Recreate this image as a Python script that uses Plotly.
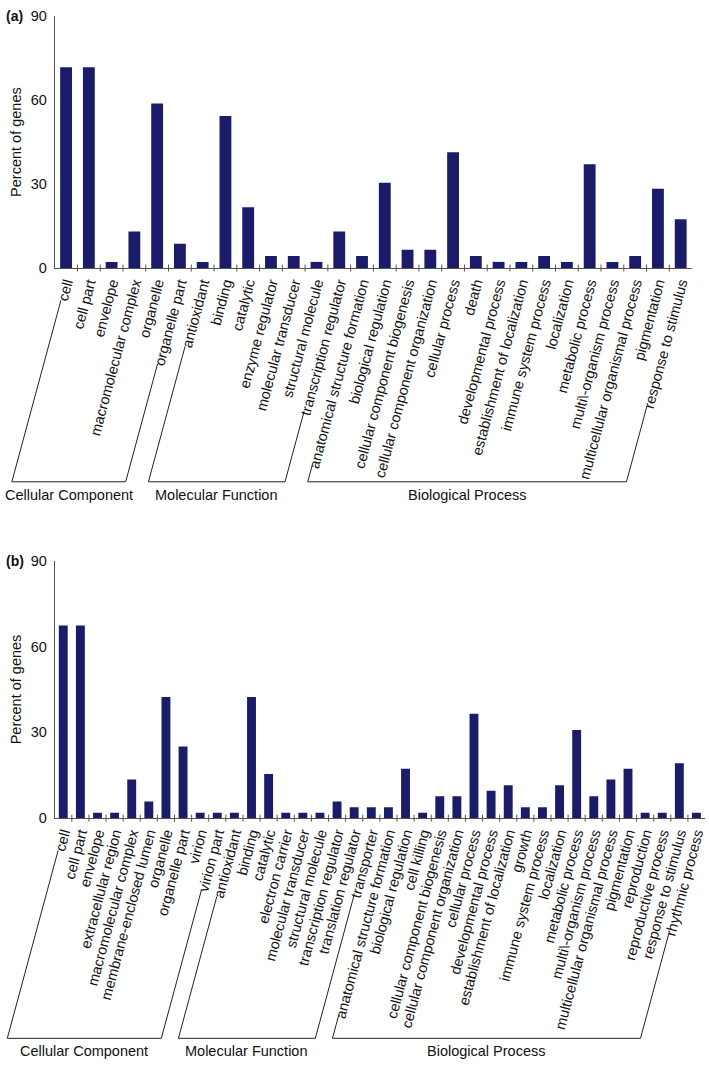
import math
import plotly.graph_objects as go

# ---------------- data ----------------
cats_a = ["cell", "cell part", "envelope", "macromolecular complex", "organelle",
          "organelle part", "antioxidant", "binding", "catalytic", "enzyme regulator",
          "molecular transducer", "structural molecule", "transcription regulator",
          "anatomical structure formation", "biological regulation",
          "cellular component biogenesis", "cellular component organization",
          "cellular process", "death", "developmental process",
          "establishment of localization", "immune system process", "localization",
          "metabolic process", "multi\\-organism process",
          "multicellular organismal process", "pigmentation", "response to stimulus"]
vals_a = [71.7, 71.7, 2.2, 13.0, 58.7, 8.7, 2.2, 54.3, 21.7, 4.3, 4.3, 2.2, 13.0,
          4.3, 30.4, 6.5, 6.5, 41.3, 4.3, 2.2, 2.2, 4.3, 2.2, 37.0, 2.2, 4.3, 28.3, 17.4]
groups_a = [("Cellular Component", 0, 5), ("Molecular Function", 6, 12),
            ("Biological Process", 13, 27)]

cats_b = ["cell", "cell part", "envelope", "extracellular region", "macromolecular complex",
          "membrane-enclosed lumen", "organelle", "organelle part", "virion", "virion part",
          "antioxidant", "binding", "catalytic", "electron carrier", "molecular transducer",
          "structural molecule", "transcription regulator", "translation regulator",
          "transporter", "anatomical structure formation", "biological regulation",
          "cell killing", "cellular component biogenesis", "cellular component organization",
          "cellular process", "developmental process", "establishment of localization",
          "growth", "immune system process", "localization", "metabolic process",
          "multi\\-organism process", "multicellular organismal process", "pigmentation",
          "reproduction", "reproductive process", "response to stimulus", "rhythmic process"]
vals_b = [67.3, 67.3, 1.9, 1.9, 13.5, 5.8, 42.3, 25.0, 1.9, 1.9,
          1.9, 42.3, 15.4, 1.9, 1.9, 1.9, 5.8, 3.8, 3.8,
          3.8, 17.3, 1.9, 7.7, 7.7, 36.5, 9.6, 11.5, 3.8, 3.8, 11.5, 30.8,
          7.7, 13.5, 17.3, 1.9, 1.9, 19.2, 1.9]
groups_b = [("Cellular Component", 0, 9), ("Molecular Function", 10, 18),
            ("Biological Process", 19, 37)]

y_ticks = [0, 30, 60, 90]

# ---------------- styling / geometry ----------------
W, H = 709, 1067
FONT = "Liberation Sans, Arial, sans-serif"
FS = 14.5
BAR = "#1b1b6c"
AX = "#555555"
ANG = 75  # label angle from horizontal

panels = {
    "a": dict(cats=cats_a, vals=vals_a, groups=groups_a, xl=52, xr=693, yt=8, yb=264,
              base=217, xa="x", ya="y"),
    "b": dict(cats=cats_b, vals=vals_b, groups=groups_b, xl=52, xr=706, yt=561, yb=822.5,
              base=223.5, xa="x2", ya="y2"),
}

CW = {'a': 556, 'b': 556, 'c': 500, 'd': 556, 'e': 556, 'f': 278, 'g': 556, 'h': 556,
      'i': 222, 'j': 222, 'k': 500, 'l': 222, 'm': 833, 'n': 556, 'o': 556, 'p': 556,
      'q': 556, 'r': 333, 's': 500, 't': 278, 'u': 556, 'v': 500, 'w': 722, 'x': 500,
      'y': 500, 'z': 500, ' ': 278, '-': 333, '\\': 278}


def text_w(s):
    return sum(CW.get(ch, 556) for ch in s) / 1000.0 * FS


def px(x):
    return x / W


def py(y):
    return 1 - y / H


fig = go.Figure()
shapes = []
annotations = []
s, c = math.sin(math.radians(90 - ANG)), math.cos(math.radians(90 - ANG))

for key, p in panels.items():
    n = len(p["cats"])
    fig.add_trace(go.Bar(x=list(range(n)), y=p["vals"], marker_color=BAR,
                         marker_line_width=0, xaxis=p["xa"], yaxis=p["ya"],
                         showlegend=False))
    step = (p["xr"] - p["xl"]) / n
    ybase = p["yb"] + p["base"]

    def origin(i):
        return p["xl"] + (i + 0.5) * step + 2, p["yb"] + 6

    for name, i0, i1 in p["groups"]:
        pts = []
        for i in (i0, i1):
            ox, oy = origin(i)
            L = text_w(p["cats"][i]) + 6
            tx, ty = ox - s * L, oy + c * L
            fx = ox - math.tan(math.radians(90 - ANG)) * (ybase - oy)
            pts.append(((tx, ty), (fx, ybase)))
        (t0, f0), (t1, f1) = pts
        path = "M {},{} L {},{} L {},{} L {},{}".format(
            px(t0[0]), py(t0[1]), px(f0[0]), py(f0[1]),
            px(f1[0]), py(f1[1]), px(t1[0]), py(t1[1]))
        shapes.append(dict(type="path", path=path, xref="paper", yref="paper",
                           line=dict(color="#222222", width=1)))
        annotations.append(dict(text=name, x=px((f0[0] + f1[0]) / 2), y=py(ybase + 13),
                                xref="paper", yref="paper", showarrow=False,
                                xanchor="center", yanchor="middle",
                                font=dict(family=FONT, size=FS, color="#111111")))
    annotations.append(dict(text="Percent of genes", x=px(13), y=py((p["yt"] + p["yb"]) / 2),
                            xref="paper", yref="paper", showarrow=False, textangle=-90,
                            xanchor="center", yanchor="middle",
                            font=dict(family=FONT, size=FS, color="#111111")))
    annotations.append(dict(text="<b>(%s)</b>" % key, x=px(1), y=py(p["yt"]),
                            xref="paper", yref="paper", showarrow=False,
                            xanchor="left", yanchor="middle",
                            font=dict(family=FONT, size=14, color="#111111")))

common_x = dict(type="linear", tickmode="array", showline=True, linecolor=AX, linewidth=1,
                ticks="", showgrid=False, zeroline=False, tickangle=-ANG,
                tickfont=dict(family=FONT, size=FS, color="#111111"), fixedrange=True)
common_y = dict(range=[0, 90], tickvals=y_ticks, showline=True, linecolor=AX, linewidth=1,
                ticks="", showgrid=False, zeroline=False, ticklabelstandoff=4,
                tickfont=dict(family=FONT, size=FS, color="#111111"))

pa, pb = panels["a"], panels["b"]
fig.update_layout(
    width=W, height=H, margin=dict(l=0, r=0, t=0, b=0),
    paper_bgcolor="white", plot_bgcolor="white", bargap=0.48,
    xaxis=dict(common_x, domain=[px(pa["xl"]), px(pa["xr"])], anchor="y",
               range=[-0.5, len(cats_a) - 0.5],
               tickvals=list(range(len(cats_a))), ticktext=cats_a),
    yaxis=dict(common_y, domain=[py(pa["yb"]), py(pa["yt"])], anchor="x"),
    xaxis2=dict(common_x, domain=[px(pb["xl"]), px(pb["xr"])], anchor="y2",
                range=[-0.5, len(cats_b) - 0.5],
                tickvals=list(range(len(cats_b))), ticktext=cats_b),
    yaxis2=dict(common_y, domain=[py(pb["yb"]), py(pb["yt"])], anchor="x2"),
    shapes=shapes, annotations=annotations,
)

# boundary tick marks between categories (short down ticks)
for key, p in panels.items():
    n = len(p["cats"])
    fig.add_trace(go.Scatter(x=[i - 0.5 for i in range(1, n)], y=[0] * (n - 1),
                             mode="markers", marker=dict(symbol="line-ns", size=5,
                                                         line=dict(color=AX, width=1)),
                             xaxis=p["xa"], yaxis=p["ya"], showlegend=False,
                             hoverinfo="skip", cliponaxis=False))

fig.write_html("out.html", config={"displayModeBar": False},
               post_script="document.body.style.margin='0';")
